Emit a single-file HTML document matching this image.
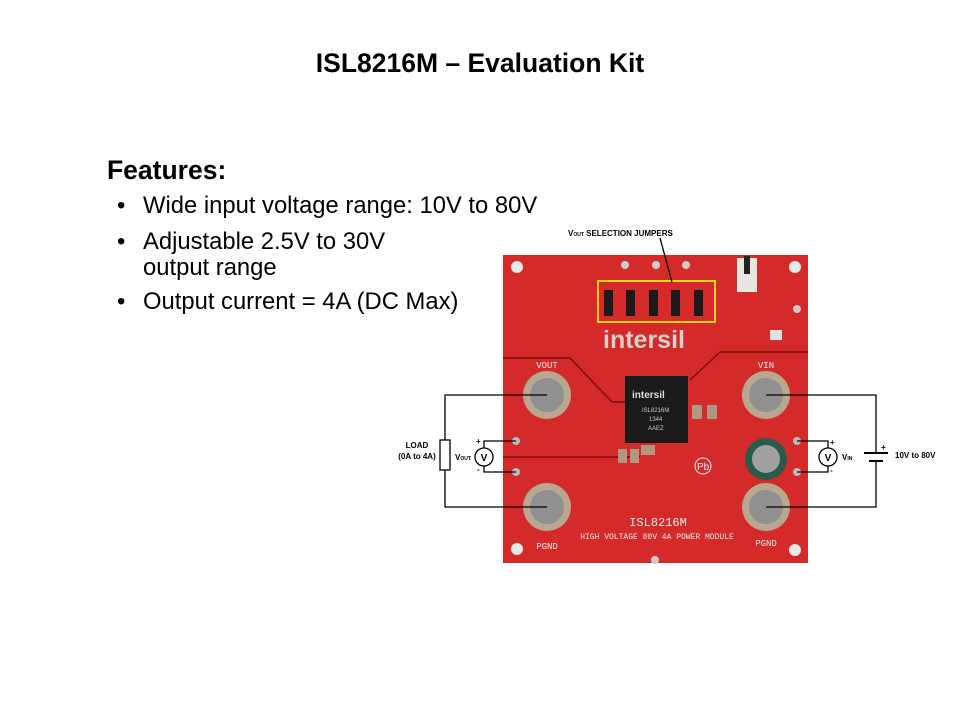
<!DOCTYPE html>
<html><head><style>
body{margin:0;width:960px;height:720px;background:#fff;font-family:"Liberation Sans",sans-serif;position:relative;overflow:hidden}
.t{position:absolute;white-space:nowrap;color:#000}
</style></head><body>
<div class="t" style="left:0;width:960px;text-align:center;top:48px;font-size:26.5px;font-weight:bold">ISL8216M – Evaluation Kit</div>
<div class="t" style="left:107px;top:155px;font-size:26.5px;font-weight:bold">Features:</div>
<div class="t" style="left:117px;top:192px;font-size:23.8px">•</div><div class="t" style="left:143px;top:192px;font-size:23.8px">Wide input voltage range: 10V to 80V</div>
<div class="t" style="left:117px;top:228px;font-size:23.8px">•</div><div class="t" style="left:143px;top:228px;font-size:23.8px">Adjustable 2.5V to 30V</div>
<div class="t" style="left:143px;top:254px;font-size:23.8px">output range</div>
<div class="t" style="left:117px;top:288px;font-size:23.8px">•</div><div class="t" style="left:143px;top:288px;font-size:23.8px">Output current = 4A (DC Max)</div>
<svg width="960" height="720" style="position:absolute;left:0;top:0" font-family="Liberation Sans,sans-serif">
<rect x="503" y="255" width="305" height="308" fill="#d42a2a"/>
<g fill="#e8e8e8"><circle cx="517" cy="267" r="6"/><circle cx="795" cy="267" r="6"/><circle cx="517" cy="549" r="6"/><circle cx="795" cy="550" r="6"/></g>
<g stroke="#7a1010" stroke-width="1.5" fill="none"><path d="M503 358 H570 L612 402 H625"/><path d="M503 457 H640"/><path d="M808 352 H720 L690 380"/></g>
<rect x="598" y="281" width="117" height="41" fill="none" stroke="#f0d020" stroke-width="2"/>
<g fill="#1a1a1a"><rect x="604" y="290" width="9" height="26"/><rect x="626" y="290" width="9" height="26"/><rect x="649" y="290" width="9" height="26"/><rect x="671" y="290" width="9" height="26"/><rect x="694" y="290" width="9" height="26"/></g>
<g fill="#ccc"><circle cx="625" cy="265" r="4"/><circle cx="656" cy="265" r="4"/><circle cx="686" cy="265" r="4"/><circle cx="797" cy="309" r="4"/><circle cx="655" cy="560" r="4"/></g>
<rect x="737" y="258" width="20" height="34" fill="#e8e8e0"/><rect x="744" y="256" width="6" height="18" fill="#222"/>
<rect x="770" y="330" width="12" height="10" fill="#e0e0e0"/>
<text x="603" y="348" font-size="25" font-weight="bold" fill="#d8d0cc">intersil</text>
<rect x="625" y="376" width="63" height="67" fill="#1a1a1a"/>
<text x="632" y="398" font-size="10" font-weight="bold" fill="#ddd">intersil</text>
<text x="642" y="412" font-size="6" fill="#ccc">ISL8216M</text>
<text x="649" y="421" font-size="6" fill="#ccc">1344</text>
<text x="648" y="430" font-size="6" fill="#ccc">AAEZ</text>
<g fill="#b09880"><rect x="692" y="405" width="10" height="14"/><rect x="707" y="405" width="10" height="14"/><rect x="618" y="449" width="9" height="14"/><rect x="630" y="449" width="9" height="14"/><rect x="641" y="445" width="14" height="10"/></g>
<g><circle cx="547" cy="395" r="24" fill="#b8a890"/><circle cx="547" cy="395" r="17" fill="#909090"/><circle cx="547" cy="507" r="24" fill="#b8a890"/><circle cx="547" cy="507" r="17" fill="#909090"/><circle cx="766" cy="395" r="24" fill="#b8a890"/><circle cx="766" cy="395" r="17" fill="#909090"/><circle cx="766" cy="507" r="24" fill="#b8a890"/><circle cx="766" cy="507" r="17" fill="#909090"/></g>
<circle cx="766" cy="459" r="21" fill="#2a5a4a"/><circle cx="766" cy="459" r="14" fill="#a0a0a0"/>
<g fill="#bbb"><circle cx="516" cy="441" r="4"/><circle cx="516" cy="472" r="4"/><circle cx="797" cy="441" r="4"/><circle cx="797" cy="472" r="4"/></g>
<g fill="#eee" font-family="Liberation Mono,monospace"><text x="547" y="368" font-size="9" text-anchor="middle">VOUT</text><text x="547" y="549" font-size="9" text-anchor="middle">PGND</text><text x="766" y="368" font-size="9" text-anchor="middle">VIN</text><text x="766" y="546" font-size="9" text-anchor="middle">PGND</text><text x="658" y="526" font-size="12" text-anchor="middle">ISL8216M</text><text x="657" y="539" font-size="8" text-anchor="middle">HIGH VOLTAGE 80V 4A POWER MODULE</text></g>
<circle cx="703" cy="466" r="8" fill="none" stroke="#eee"/><text x="697" y="470" font-size="10" fill="#eee">Pb</text>
<g stroke="#000" stroke-width="1.3" fill="none">
<path d="M547 395 H445 V507 H547"/>
<path d="M516 441 H484 V448 M484 466 V472 H516"/>
<path d="M766 395 H876 V452 M876 461 V507 H766"/>
<path d="M797 441 H828 V448 M828 466 V472 H797"/>
<path d="M864 453 H888" stroke-width="2"/><path d="M869 461 H883" stroke-width="2"/>
<path d="M660 238 L672 282"/>
</g>
<rect x="440" y="440" width="10" height="30" fill="#fff" stroke="#000" stroke-width="1.3"/>
<circle cx="484" cy="457" r="9" fill="#fff" stroke="#000" stroke-width="1.3"/><text x="484" y="461" font-size="10" font-weight="bold" text-anchor="middle">V</text>
<circle cx="828" cy="457" r="9" fill="#fff" stroke="#000" stroke-width="1.3"/><text x="828" y="461" font-size="10" font-weight="bold" text-anchor="middle">V</text>
<g font-weight="bold" font-size="8"><text x="417" y="448" text-anchor="middle">LOAD</text><text x="417" y="459" text-anchor="middle">(0A to 4A)</text><text x="455" y="460">V<tspan font-size="5">OUT</tspan></text><text x="842" y="460">V<tspan font-size="5">IN</tspan></text><text x="895" y="458">10V to 80V</text><text x="568" y="236">V<tspan font-size="5">OUT</tspan> SELECTION JUMPERS</text><text x="476" y="444">+</text><text x="477" y="472">-</text><text x="830" y="445">+</text><text x="830" y="473">-</text><text x="881" y="450">+</text></g>
</svg>
</body></html>
